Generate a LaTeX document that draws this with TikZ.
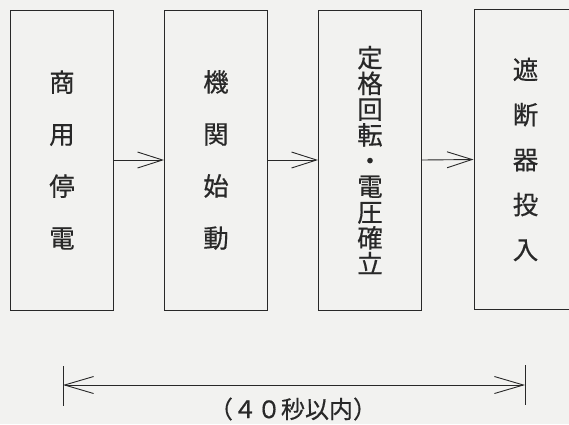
\documentclass[tikz,border=0pt]{standalone}
\usepackage{fontspec}
\newfontfamily\jp[FakeBold=0.5]{Noto Sans CJK JP}
\usetikzlibrary{arrows.meta}
\definecolor{ink}{RGB}{40,40,40}
\definecolor{paper}{RGB}{242,242,240}
\begin{document}
\begin{tikzpicture}[x=1pt,y=-1pt,
  stepbox/.style={draw=ink, line width=1pt, minimum width=103pt, minimum height=300pt,
    inner sep=0pt, align=center, text=ink},
  flow/.style={draw=ink, line width=0.9pt, -{Straight Barb[length=25pt,width=16pt]}},
  span/.style={draw=ink, line width=0.9pt, {Straight Barb[length=29pt,width=17pt]}-{Straight Barb[length=29pt,width=17pt]}},
  tick/.style={draw=ink, line width=0.9pt}]
\fill[paper] (0,0) rectangle (569,424);
\useasboundingbox (0,0) rectangle (569,424);
\clip (0,0) rectangle (569,424);
\node[stepbox, font=\jp\fontsize{25.5}{52}\selectfont] (b1) at (62,160) {商\\用\\停\\電};
\node[stepbox, font=\jp\fontsize{25.5}{52}\selectfont] (b2) at (216,160) {機\\関\\始\\動};
\node[stepbox, font=\jp\fontsize{25.5}{25.75}\selectfont] (b3) at (370,160) {定\\格\\回\\転\\・\\電\\圧\\確\\立};
\node[stepbox, font=\jp\fontsize{25.5}{45}\selectfont] (b4) at (525.5,159.5) {遮\\断\\器\\投\\入};
\draw[flow] (b1.east) -- (b2.west);
\draw[flow] (b2.east) -- (b3.west);
\draw[flow] (b3.east) -- (b4.west);
\coordinate (L) at (63,385);
\coordinate (R) at (525,385);
\coordinate (Lt) at (63,366);
\coordinate (Lb) at (63,406);
\coordinate (Rt) at (525,365);
\coordinate (Rb) at (525,405);
\draw[tick] (Lt) -- (Lb);
\draw[tick] (Rt) -- (Rb);
\draw[span] (L) -- (R);
\node[text=ink, font=\jp\fontsize{24}{26}\selectfont, inner sep=0pt] (t) at (293,409) {（４０秒以内）};
\end{tikzpicture}
\end{document}
